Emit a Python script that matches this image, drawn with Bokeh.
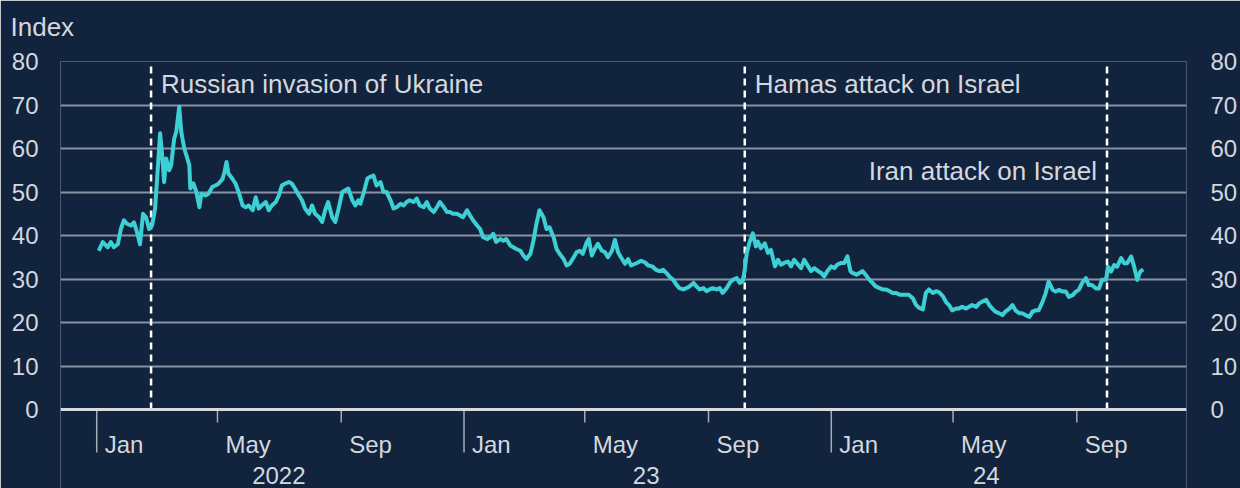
import pandas as pd
from bokeh.plotting import figure
from bokeh.models import Range1d, LinearAxis, FixedTicker, Span, Title, ColumnDataSource
from bokeh.core.properties import value
from bokeh.embed import file_html
from bokeh.resources import INLINE

# ---------------- data ----------------
dates = [
    "2022-01-03", "2022-01-07", "2022-01-12", "2022-01-15", "2022-01-18", "2022-01-22", "2022-01-25", "2022-01-28", "2022-01-31",
    "2022-02-04", "2022-02-07", "2022-02-10", "2022-02-13", "2022-02-16", "2022-02-19", "2022-02-22", "2022-02-25", "2022-02-28",
    "2022-03-02", "2022-03-05", "2022-03-07", "2022-03-09", "2022-03-11", "2022-03-14", "2022-03-16", "2022-03-19", "2022-03-21", "2022-03-24", "2022-03-26", "2022-03-29", "2022-03-31",
    "2022-04-03", "2022-04-04", "2022-04-07", "2022-04-10", "2022-04-13", "2022-04-15", "2022-04-19", "2022-04-22", "2022-04-26", "2022-04-29",
    "2022-05-02", "2022-05-06", "2022-05-08", "2022-05-10", "2022-05-12", "2022-05-16", "2022-05-19", "2022-05-22", "2022-05-26", "2022-05-29",
    "2022-06-01", "2022-06-05", "2022-06-08", "2022-06-11", "2022-06-14", "2022-06-18", "2022-06-21", "2022-06-24", "2022-06-28",
    "2022-07-01", "2022-07-04", "2022-07-07", "2022-07-11", "2022-07-14", "2022-07-17", "2022-07-21", "2022-07-24", "2022-07-27", "2022-07-31",
    "2022-08-03", "2022-08-06", "2022-08-10", "2022-08-13", "2022-08-16", "2022-08-19", "2022-08-23", "2022-08-26", "2022-08-29",
    "2022-09-02", "2022-09-05", "2022-09-08", "2022-09-12", "2022-09-15", "2022-09-18", "2022-09-20", "2022-09-23", "2022-09-27", "2022-09-30",
    "2022-10-03", "2022-10-06", "2022-10-10", "2022-10-13", "2022-10-16", "2022-10-20", "2022-10-23", "2022-10-26", "2022-10-30",
    "2022-11-02", "2022-11-05", "2022-11-08", "2022-11-12", "2022-11-15", "2022-11-18", "2022-11-22", "2022-11-25", "2022-11-28",
    "2022-12-02", "2022-12-05", "2022-12-08", "2022-12-12", "2022-12-15", "2022-12-18", "2022-12-21", "2022-12-25", "2022-12-28", "2022-12-31",
    "2023-01-04", "2023-01-07", "2023-01-10", "2023-01-14", "2023-01-17", "2023-01-20", "2023-01-24", "2023-01-27", "2023-01-30",
    "2023-02-02", "2023-02-06", "2023-02-09", "2023-02-12", "2023-02-16", "2023-02-19", "2023-02-22", "2023-02-26",
    "2023-03-01", "2023-03-04", "2023-03-08", "2023-03-11", "2023-03-14", "2023-03-17", "2023-03-21", "2023-03-24", "2023-03-27", "2023-03-31",
    "2023-04-03", "2023-04-06", "2023-04-10", "2023-04-13", "2023-04-16", "2023-04-20", "2023-04-23", "2023-04-26", "2023-04-29",
    "2023-05-03", "2023-05-05", "2023-05-08", "2023-05-11", "2023-05-14", "2023-05-18", "2023-05-21", "2023-05-24", "2023-05-28", "2023-05-31",
    "2023-06-03", "2023-06-06", "2023-06-10", "2023-06-13", "2023-06-16", "2023-06-20", "2023-06-23", "2023-06-26", "2023-06-30",
    "2023-07-03", "2023-07-07", "2023-07-11", "2023-07-14", "2023-07-18", "2023-07-21", "2023-07-24", "2023-07-28", "2023-07-31",
    "2023-08-03", "2023-08-07", "2023-08-10", "2023-08-13", "2023-08-17", "2023-08-20", "2023-08-23", "2023-08-27", "2023-08-30",
    "2023-09-02", "2023-09-05", "2023-09-09", "2023-09-12", "2023-09-15", "2023-09-19", "2023-09-22", "2023-09-25", "2023-09-29",
    "2023-10-02", "2023-10-05", "2023-10-07", "2023-10-09", "2023-10-12", "2023-10-15", "2023-10-18", "2023-10-20", "2023-10-23", "2023-10-27", "2023-10-30",
    "2023-11-02", "2023-11-06", "2023-11-09", "2023-11-12", "2023-11-15", "2023-11-19", "2023-11-22", "2023-11-25", "2023-11-29",
    "2023-12-02", "2023-12-05", "2023-12-09", "2023-12-12", "2023-12-15", "2023-12-19", "2023-12-22", "2023-12-25", "2023-12-28",
    "2024-01-01", "2024-01-04", "2024-01-07", "2024-01-11", "2024-01-14", "2024-01-17", "2024-01-20", "2024-01-22", "2024-01-26", "2024-01-29",
    "2024-02-01", "2024-02-04", "2024-02-08", "2024-02-11", "2024-02-14", "2024-02-18", "2024-02-21", "2024-02-24", "2024-02-28",
    "2024-03-02", "2024-03-05", "2024-03-09", "2024-03-12", "2024-03-15", "2024-03-18", "2024-03-22", "2024-03-25", "2024-03-28",
    "2024-04-01", "2024-04-04", "2024-04-07", "2024-04-11", "2024-04-14", "2024-04-17", "2024-04-21", "2024-04-24", "2024-04-27", "2024-04-30",
    "2024-05-04", "2024-05-07", "2024-05-10", "2024-05-14", "2024-05-17", "2024-05-20", "2024-05-24", "2024-05-27", "2024-05-30",
    "2024-06-03", "2024-06-06", "2024-06-09", "2024-06-12", "2024-06-16", "2024-06-19", "2024-06-22", "2024-06-26", "2024-06-29",
    "2024-07-02", "2024-07-06", "2024-07-09", "2024-07-12", "2024-07-16", "2024-07-19", "2024-07-22", "2024-07-25", "2024-07-29",
    "2024-08-01", "2024-08-04", "2024-08-08", "2024-08-11", "2024-08-14", "2024-08-18", "2024-08-21", "2024-08-24", "2024-08-28", "2024-08-31",
    "2024-09-03", "2024-09-06", "2024-09-10", "2024-09-13", "2024-09-16", "2024-09-20", "2024-09-23", "2024-09-26", "2024-09-30",
    "2024-10-02", "2024-10-05", "2024-10-08", "2024-10-11", "2024-10-15", "2024-10-18", "2024-10-21", "2024-10-25", "2024-10-28", "2024-10-31",
    "2024-11-03", "2024-11-06",
]

index_values = [
    36.5, 38.5, 37.3, 38.5, 37.3, 38.0, 41.5, 43.5, 42.7,
    42.3, 43.0, 40.8, 38.0, 45.0, 44.2, 41.5, 42.3, 46.2,
    53.0, 63.5, 58.5, 52.3, 57.7, 55.0, 56.2, 62.3, 63.8, 69.6, 63.8, 60.0, 58.5,
    56.2, 50.8, 52.0, 50.0, 46.5, 49.6, 49.2, 49.6, 51.2, 51.5,
    51.9, 53.0, 54.6, 56.9, 54.2, 53.0, 51.9, 50.0, 46.9, 46.5,
    46.9, 45.8, 48.8, 46.2, 46.9, 47.7, 45.8, 46.9, 47.7,
    49.2, 51.5, 51.9, 52.3, 51.9, 50.8, 49.2, 48.1, 46.2, 45.0,
    46.9, 45.0, 44.2, 43.1, 45.8, 47.7, 44.2, 43.1, 45.8,
    50.0, 50.4, 50.8, 48.1, 46.9, 48.1, 47.3, 49.6, 53.1, 53.5,
    53.8, 51.5, 52.3, 50.0, 50.0, 48.1, 46.2, 46.5, 47.3,
    46.9, 47.7, 48.1, 47.7, 48.5, 46.9, 46.5, 47.7, 46.2,
    45.4, 46.5, 47.7, 46.5, 45.4, 45.4, 45.0, 45.0, 44.6, 44.2,
    45.8, 44.6, 43.5, 42.3, 41.5, 39.6, 39.2, 39.6, 40.4,
    38.5, 39.2, 38.8, 39.2, 37.7, 37.3, 36.9, 36.5,
    35.4, 34.6, 35.8, 38.8, 42.7, 45.8, 44.2, 41.5, 41.9, 39.6,
    36.9, 35.8, 34.6, 33.1, 33.5, 35.0, 36.2, 36.5, 35.8,
    38.5, 39.2, 35.4, 36.9, 38.1, 36.5, 36.2, 35.0, 36.5, 39.0,
    36.2, 35.0, 33.5, 34.6, 33.1, 33.5, 33.8, 34.2, 33.8,
    33.1, 32.9, 32.1, 31.8, 32.1, 31.4, 30.6, 29.8, 28.7,
    27.9, 27.6, 27.9, 28.3, 29.1, 28.3, 27.6, 27.9, 27.2,
    27.6, 27.9, 27.6, 27.9, 26.8, 27.9, 29.1, 29.8, 30.2,
    29.1, 29.5, 32.1, 36.0, 38.6, 40.5, 37.5, 38.6, 37.1, 38.2, 36.0,
    36.7, 32.9, 34.4, 33.3, 33.7, 34.0, 32.9, 34.4, 33.3,
    32.5, 34.4, 32.9, 31.8, 32.5, 31.8, 31.4, 30.6, 31.8,
    32.9, 32.5, 33.3, 33.7, 33.7, 35.2, 31.8, 31.4, 31.0, 31.4,
    31.8, 31.0, 29.8, 29.1, 28.3, 27.9, 27.6, 27.6, 27.2,
    26.8, 26.8, 26.4, 26.4, 26.4, 26.4, 25.6, 24.1, 23.4,
    23.0, 26.8, 27.6, 26.8, 27.2, 27.0, 26.0, 24.7, 24.0, 22.8,
    23.2, 23.2, 23.6, 23.2, 23.6, 24.0, 23.6, 24.4, 24.8,
    25.2, 24.0, 23.2, 22.5, 22.1, 21.7, 22.5, 23.2, 24.0,
    22.8, 22.1, 22.1, 21.7, 21.3, 22.5, 22.8, 22.8, 24.8,
    26.7, 29.4, 27.5, 27.1, 27.5, 27.1, 27.1, 25.9, 26.3, 27.1,
    27.5, 29.0, 30.2, 28.6, 28.6, 27.8, 27.8, 29.8, 29.8,
    32.8, 31.7, 33.2, 32.8, 34.8, 33.6, 33.6, 35.2, 32.8, 29.8,
    31.7, 32.2,
]
assert len(dates) == len(index_values)

y_ticks = [0, 10, 20, 30, 40, 50, 60, 70, 80]
year_tick_dates = ["2022-01-01", "2023-01-01", "2024-01-01"]
month_tick_dates = ["2022-01-01", "2022-05-01", "2022-09-01",
                    "2023-01-01", "2023-05-01", "2023-09-01",
                    "2024-01-01", "2024-05-01", "2024-09-01"]
month_tick_labels = ["Jan", "May", "Sep"] * 3
minor_tick_dates = [d for d in month_tick_dates if d not in year_tick_dates]
year_label_dates = ["2022-07-01", "2023-07-01", "2024-06-03"]
year_labels = ["2022", "23", "24"]
event_dates = ["2022-02-24", "2023-10-07", "2024-10-01"]
event_labels = ["Russian invasion of Ukraine", "Hamas attack on Israel", "Iran attack on Israel"]
event_label_y = [74.8, 74.8, 54.9]
event_label_side = ["right", "right", "left"]
x_start, x_end = "2021-11-26", "2024-12-19"

# ---------------- style / layout ----------------
BG = "#12233e"
TXT = "#d3d8de"
GRID = "#8892a0"
AXIS = "#d6dbe1"
TICK = "#a3acb8"
LINE = "#3ccfd3"
FONT = "Liberation Sans"
FS = "24px"
PX_PER_UNIT = 4.35            # vertical pixels per index point
Y_BOTTOM = -79 / PX_PER_UNIT  # frame extends down to the bottom edge for the month/year labels


def ms(d):
    return pd.Timestamp(d).timestamp() * 1000.0


src = ColumnDataSource(dict(x=[ms(d) for d in dates], y=index_values))

p = figure(width=1240, height=488, output_backend="svg", toolbar_location=None,
           x_axis_location=None,
           x_range=Range1d(ms(x_start), ms(x_end)), y_range=Range1d(Y_BOTTOM, 80),
           min_border_left=60, min_border_right=52, min_border_top=61, min_border_bottom=0,
           background_fill_color=BG, border_fill_color=BG, outline_line_color=None)

# y axes (left and right)
def style_y(ax, standoff):
    ax.ticker = FixedTicker(ticks=y_ticks)
    ax.axis_line_color = None
    ax.major_tick_line_color = None
    ax.minor_tick_line_color = None
    ax.major_label_standoff = standoff
    ax.major_label_text_font_size = FS
    ax.major_label_text_color = TXT
    ax.major_label_text_font = FONT

style_y(p.yaxis[0], 16)
ra = LinearAxis()
style_y(ra, 18)
p.add_layout(ra, "right")

p.xgrid.visible = False
p.ygrid.ticker = FixedTicker(ticks=y_ticks[1:])
p.ygrid.grid_line_color = GRID
p.ygrid.grid_line_width = 2

# "Index" unit label: an empty spacer panel next to the frame, then the label above it
p.add_layout(Title(text=" ", standoff=4, text_font_size="12px", text_color=BG), "above")
p.add_layout(Title(text="Index", align="left", offset=-50, standoff=0, vertical_align="bottom",
                   text_font_size="26px", text_font_style="normal",
                   text_color=TXT, text_font=FONT), "above")

# x axis line at zero
p.add_layout(Span(location=0, dimension="width", line_color=AXIS, line_width=3))

# x tick marks: long at each year start, short at May / Sep
yt = [ms(d) for d in year_tick_dates]
p.segment(x0=yt, y0=[0] * len(yt), x1=yt, y1=[-43 / PX_PER_UNIT] * len(yt),
          line_color=TICK, line_width=1.5)
mt = [ms(d) for d in minor_tick_dates]
p.segment(x0=mt, y0=[0] * len(mt), x1=mt, y1=[-13 / PX_PER_UNIT] * len(mt),
          line_color=TICK, line_width=1.5)

# month labels (to the right of their ticks) and year labels
p.text(x=[ms(d) for d in month_tick_dates], y=[-34.5 / PX_PER_UNIT] * len(month_tick_dates),
       text=month_tick_labels, x_offset=8, text_align="left", text_baseline="middle",
       text_font=value(FONT), text_font_size=FS, text_color=TXT)
p.text(x=[ms(d) for d in year_label_dates], y=[-66 / PX_PER_UNIT] * len(year_label_dates),
       text=year_labels, text_align="center", text_baseline="middle",
       text_font=value(FONT), text_font_size=FS, text_color=TXT)

# event lines and labels
ev = [ms(d) for d in event_dates]
p.segment(x0=ev, y0=[0] * len(ev), x1=ev, y1=[80] * len(ev),
          line_color="white", line_dash="7 5", line_width=2.5)
for xx, t, yy, side in zip(ev, event_labels, event_label_y, event_label_side):
    p.text(x=[xx], y=[yy], text=[t], x_offset=10 if side == "right" else -10,
           text_align="left" if side == "right" else "right", text_baseline="middle",
           text_font=value(FONT), text_font_size="26px", text_color=TXT)

p.line("x", "y", source=src, line_color=LINE, line_width=4, line_join="round")

open("out.html", "w").write(file_html(p, INLINE))
